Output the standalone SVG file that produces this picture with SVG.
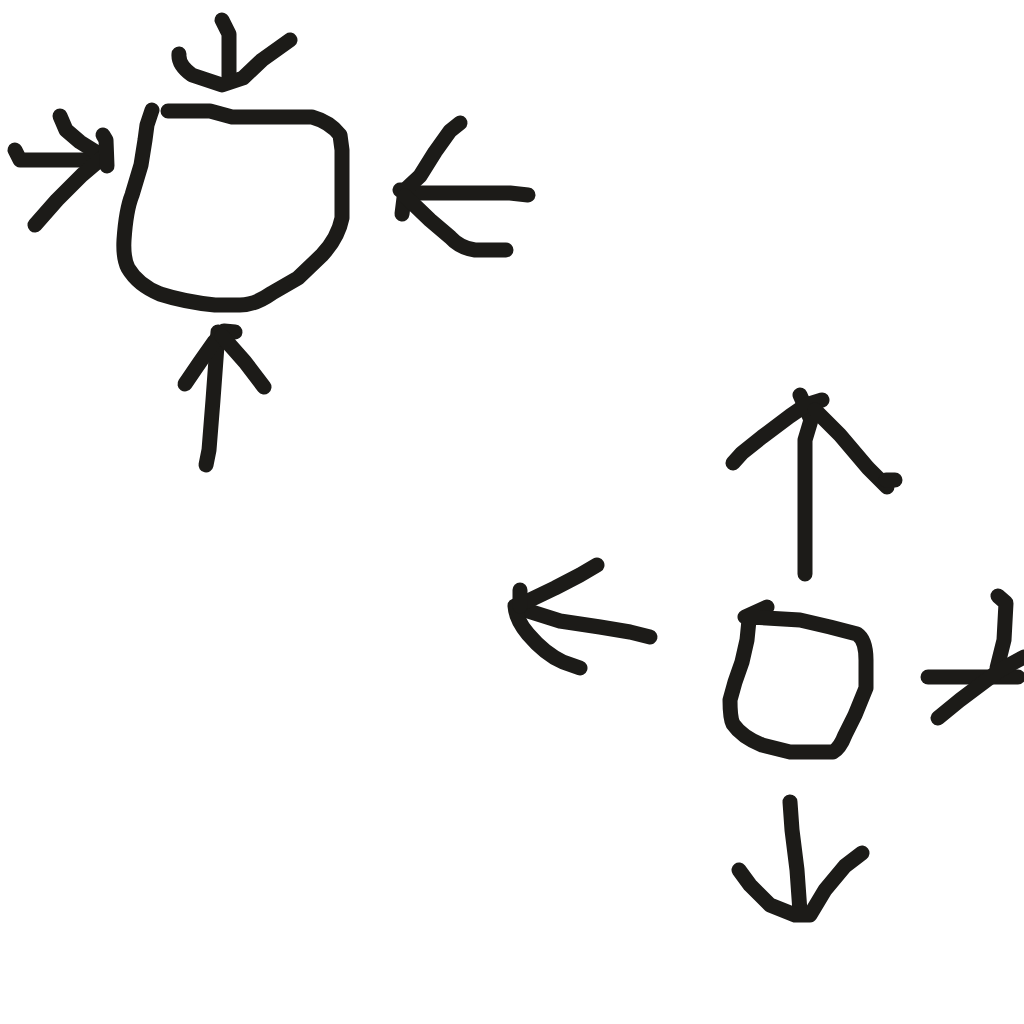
<svg xmlns="http://www.w3.org/2000/svg" width="1024" height="1024" viewBox="0 0 1024 1024">
<style>
path{fill:none;stroke:#1c1b18;stroke-width:15;stroke-linecap:round;stroke-linejoin:round}
</style>
<rect width="1024" height="1024" fill="#fff"/>
<g id="node-top-left">
<path d="M168,111 L210,111 L232,117 L312,117 Q330,122 340,135 L342,150 L342,218 Q338,238 322,255 L298,278 L272,293 Q255,305 240,305 L215,305 Q185,302 160,294 Q138,285 128,268 Q123,258 124,240 Q126,210 132,195 L141,165 L145,140 L147,125 L152,110"/>
</g>
<g id="node-bottom-right">
<path d="M745,617 L767,607"/>
<path d="M750,617 L800,620 L830,627 L857,634 Q866,640 866,660 L866,688 L855,715 L845,735 Q840,748 833,752 L790,752 L762,745 Q742,737 733,724 Q730,718 730,700 L735,682 L742,662 L747,640 L749,620"/>
</g>
<g id="connectors">
<path d="M222,20 L229,34 L229,80"/>
<path d="M179,54 Q178,65 192,75 L222,85 L243,78 L262,60 L290,40"/>
<path d="M15,150 L20,160 L100,160"/>
<path d="M60,116 L66,130 L80,142 L96,152"/>
<path d="M102,158 L82,175 L57,200 L35,225"/>
<path d="M103,135 L106,140 L107,166"/>
<path d="M528,195 L510,193 L420,193 L400,190"/>
<path d="M460,123 L450,131 L435,152 L420,176 L405,190 L402,214"/>
<path d="M405,196 L430,220 L450,237 Q460,248 475,250 L506,250"/>
<path d="M206,465 L209,450 L213,400 L218,332"/>
<path d="M185,384 L200,362 L214,342 L224,331 L235,332"/>
<path d="M222,336 L245,362 L264,387"/>
<path d="M805,574 L805,500 L805,440 L811,420 L800,395"/>
<path d="M733,463 L742,453 L762,437 L790,416 L806,405 L822,400"/>
<path d="M815,410 L840,435 L868,468 L887,487"/>
<path d="M886,480 L895,480"/>
<path d="M650,637 L630,632 L600,627 L560,621 L522,609"/>
<path d="M597,565 L580,575 L555,588 L530,600 L515,606 Q516,620 528,634 Q545,654 563,662 L580,668"/>
<path d="M520,590 L520,606"/>
<path d="M928,677 L1018,677"/>
<path d="M998,596 L1006,603 L1004,640 L997,668"/>
<path d="M1024,657 L1000,670 L980,685 L960,700 L938,718"/>
<path d="M790,802 L792,830 L797,870 L800,912"/>
<path d="M739,870 L750,885 L770,905 L795,915 L810,915 L825,890 L845,866 L862,853"/>
</g>
</svg>
